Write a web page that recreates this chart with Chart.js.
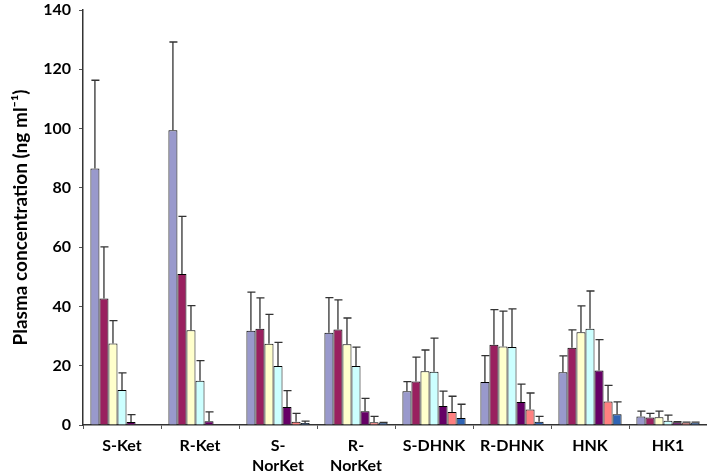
<!DOCTYPE html>
<html lang="en">
<head>
    <meta charset="UTF-8">
    <title>Plasma concentration</title>
    <style>
        body { margin: 0; background: #fff; }
        .chart-container { position: relative; width: 707px; height: 474px; }
    </style>
    <script src="https://cdn.jsdelivr.net/npm/chart.js"></script>
</head>
<body>
<div class="chart-container">
    <canvas id="plasmaChart"></canvas>
</div>
<script>
    // categories (multi-line labels)
    const categories = [
        'S-Ket', 'R-Ket', ['S-', 'NorKet'], ['R-', 'NorKet'],
        'S-DHNK', 'R-DHNK', 'HNK', 'HK1'
    ];
    const yTicks = [0, 20, 40, 60, 80, 100, 120, 140];

    // means per series
    const mean1 = [86.5, 99.4, 31.8, 31.1, 11.4, 14.5, 17.8, 2.9];
    const mean2 = [42.7, 50.9, 32.5, 32.2, 14.7, 27.1, 26.1, 2.5];
    const mean3 = [27.5, 32.0, 27.4, 27.2, 18.1, 26.5, 31.3, 2.6];
    const mean4 = [11.8, 14.9, 19.9, 19.9, 18.0, 26.3, 32.5, 1.4];
    const mean5 = [1.0, 1.3, 6.1, 4.6, 6.4, 7.8, 18.4, 0.9];
    const mean6 = [null, null, 1.1, 0.9, 4.4, 5.2, 7.9, 0.8];
    const mean7 = [null, null, 0.7, 0.8, 2.4, 1.1, 3.6, 0.8];

    // SD (upper error bars only)
    const sd1 = [29.8, 29.8, 13.0, 11.9, 3.2, 8.9, 5.5, 1.8];
    const sd2 = [17.4, 19.5, 10.4, 10.0, 8.2, 11.8, 6.0, 1.4];
    const sd3 = [7.7, 8.3, 9.9, 8.9, 7.2, 11.9, 8.9, 2.1];
    const sd4 = [5.8, 6.8, 8.0, 6.4, 11.3, 12.9, 12.7, 1.9];
    const sd5 = [2.5, 3.1, 5.5, 4.4, 5.0, 6.0, 10.4, 0.2];
    const sd6 = [0, 0, 2.8, 2.0, 5.3, 5.6, 5.5, 0.2];
    const sd7 = [0, 0, 0.6, 0.1, 4.6, 1.8, 4.2, 0.2];

    const means = [mean1, mean2, mean3, mean4, mean5, mean6, mean7];
    const sds = [sd1, sd2, sd3, sd4, sd5, sd6, sd7];
    const colors = ['#9999cc', '#99205f', '#ffffcc', '#ccffff', '#660066', '#ff8080', '#2f64b4'];

    // upper error bars drawn through the y scale
    const errorBars = {
        id: 'errorBars',
        afterDatasetsDraw(chart) {
            const ctx = chart.ctx;
            const y = chart.scales.y;
            ctx.save();
            ctx.strokeStyle = '#333';
            ctx.lineWidth = 1.3;
            chart.data.datasets.forEach((ds, i) => {
                const meta = chart.getDatasetMeta(i);
                meta.data.forEach((bar, j) => {
                    const m = ds.data[j];
                    const s = sds[i][j];
                    if (m === null || !s) return;
                    const top = y.getPixelForValue(m + s);
                    const half = bar.width / 2;
                    ctx.beginPath();
                    ctx.moveTo(bar.x, bar.y);
                    ctx.lineTo(bar.x, top);
                    ctx.moveTo(bar.x - half + 1, top);
                    ctx.lineTo(bar.x + half, top);
                    ctx.stroke();
                });
            });
            ctx.restore();
        }
    };

    const ctx = document.getElementById('plasmaChart').getContext('2d');
    new Chart(ctx, {
        type: 'bar',
        data: {
            labels: categories,
            datasets: means.map((m, i) => ({
                label: 'Series ' + (i + 1),
                data: m,
                backgroundColor: colors[i],
                borderColor: '#000',
                borderWidth: 1,
                borderSkipped: 'bottom',
                categoryPercentage: 0.81,
                barPercentage: 1.0
            }))
        },
        options: {
            responsive: true,
            maintainAspectRatio: false,
            animation: false,
            layout: { padding: { top: 10, right: 0, left: 0, bottom: 0 } },
            plugins: {
                legend: { display: false },
                tooltip: { enabled: false }
            },
            scales: {
                x: {
                    grid: {
                        display: true,
                        drawOnChartArea: false,
                        offset: true,
                        tickLength: 4,
                        color: '#555'
                    },
                    border: { color: '#333', width: 1.5 },
                    ticks: {
                        color: '#000',
                        font: { family: 'Lato', weight: 'bold', size: 16, lineHeight: 1.3 },
                        maxRotation: 0,
                        autoSkip: false,
                        padding: 6
                    },
                    afterFit(scale) { scale.height = 49; }
                },
                y: {
                    min: 0,
                    max: 140,
                    afterBuildTicks(scale) {
                        scale.ticks = yTicks.map(v => ({ value: v }));
                    },
                    grid: {
                        display: true,
                        drawOnChartArea: false,
                        tickLength: 4,
                        color: '#555'
                    },
                    border: { color: '#333', width: 1.5 },
                    ticks: {
                        color: '#000',
                        font: { family: 'Lato', weight: 'bold', size: 16, lineHeight: 0.5 },
                        padding: 8
                    },
                    title: {
                        display: true,
                        text: 'Plasma concentration (ng ml⁻¹)',
                        color: '#000',
                        font: { family: 'Lato', weight: 'bold', size: 19 },
                        padding: { top: 9, bottom: 0 }
                    },
                    afterFit(scale) {
                        scale.width = 83;
                        scale.paddingTop = 0;
                        scale.paddingBottom = 0;
                    }
                }
            }
        },
        plugins: [errorBars]
    });
</script>
</body>
</html>
